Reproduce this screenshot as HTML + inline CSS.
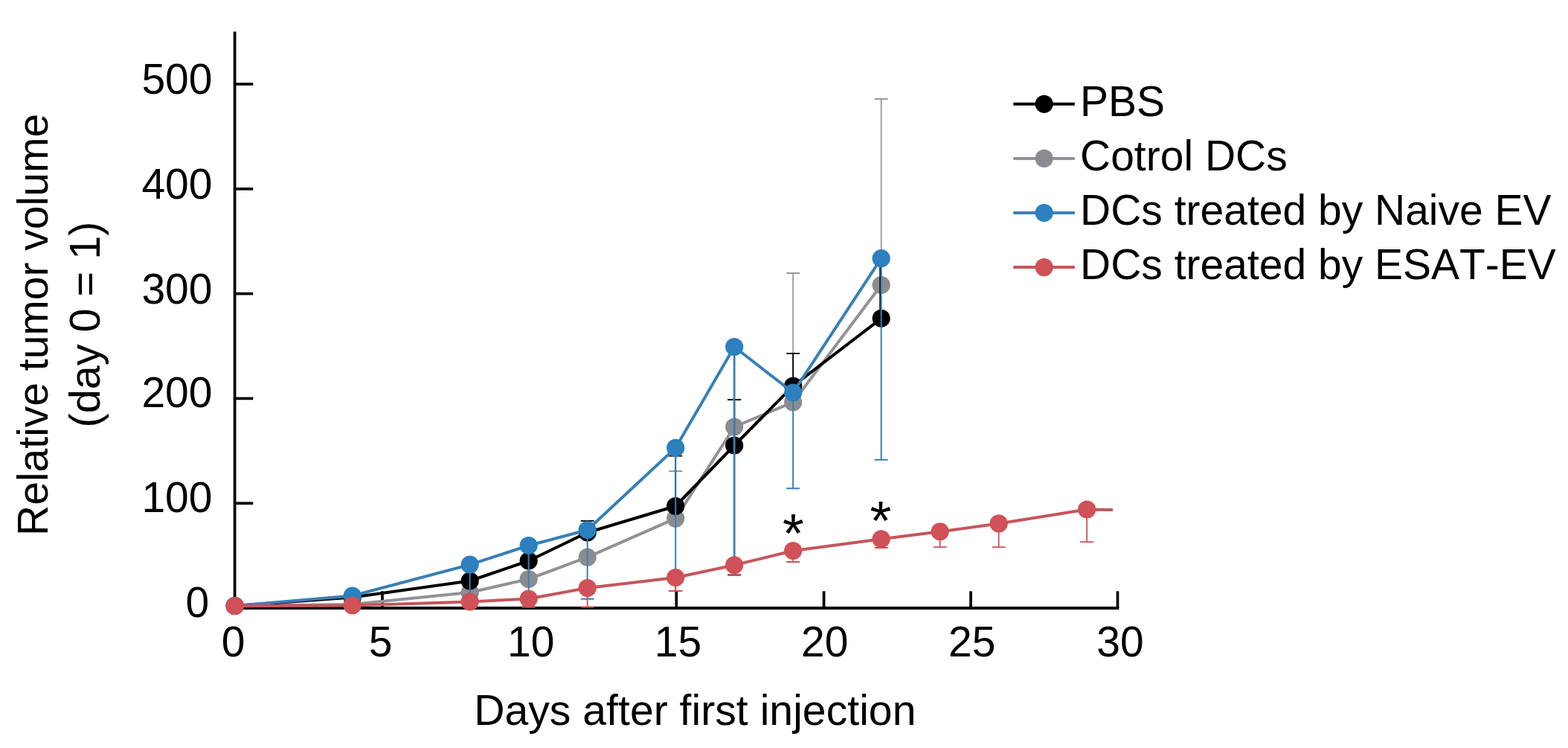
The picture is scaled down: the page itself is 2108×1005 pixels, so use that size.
<!DOCTYPE html>
<html><head><meta charset="utf-8"><title>Relative tumor volume chart</title>
<style>html,body{margin:0;padding:0;background:#fff;width:2108px;height:1005px;overflow:hidden}svg{display:block}</style>
</head><body>
<svg width="2108" height="1005" viewBox="0 0 2108 1005">
<rect width="2108" height="1005" fill="#fff"/>
<g><path d="M315.6,42.5 V817.0 H1504.3" fill="none" stroke="#000" stroke-width="3.8"/><path d="M315.6,676.2 H340.3" stroke="#000" stroke-width="3.7"/><path d="M315.6,535.4 H340.3" stroke="#000" stroke-width="3.7"/><path d="M315.6,394.6 H340.3" stroke="#000" stroke-width="3.7"/><path d="M315.6,253.8 H340.3" stroke="#000" stroke-width="3.7"/><path d="M315.6,113.0 H340.3" stroke="#000" stroke-width="3.7"/><path d="M514.0,817.0 V794.3" stroke="#000" stroke-width="3.7"/><path d="M711.4,817.0 V794.3" stroke="#000" stroke-width="3.7"/><path d="M909.3,817.0 V794.3" stroke="#000" stroke-width="3.7"/><path d="M1107.6,817.0 V794.3" stroke="#000" stroke-width="3.7"/><path d="M1305.1,817.0 V794.3" stroke="#000" stroke-width="3.7"/><path d="M1502.5,817.0 V794.3" stroke="#000" stroke-width="3.7"/></g>
<g><path d="M315.7,814.0 L473.7,812.0 L631.7,796.0 L710.7,778.0 L789.7,748.7 L908.2,696.6 L987.2,573.5 L1066.2,540.4 L1184.7,383.0" fill="none" stroke="#929296" stroke-width="4.0" stroke-linejoin="round"/><path d="M908.2,696.6 V633.0 M899.2,633.0 H917.2" stroke="#98989c" stroke-width="1.8" fill="none"/><path d="M1066.2,540.4 V367.0 M1057.2,367.0 H1075.2" stroke="#98989c" stroke-width="1.8" fill="none"/><path d="M1184.7,383.0 V133.0 M1175.7,133.0 H1193.7" stroke="#98989c" stroke-width="1.8" fill="none"/><circle cx="315.7" cy="814.0" r="12.1" fill="#8b8c90"/><circle cx="473.7" cy="812.0" r="12.1" fill="#8b8c90"/><circle cx="631.7" cy="796.0" r="12.1" fill="#8b8c90"/><circle cx="710.7" cy="778.0" r="12.1" fill="#8b8c90"/><circle cx="789.7" cy="748.7" r="12.1" fill="#8b8c90"/><circle cx="908.2" cy="696.6" r="12.1" fill="#8b8c90"/><circle cx="987.2" cy="573.5" r="12.1" fill="#8b8c90"/><circle cx="1066.2" cy="540.4" r="12.1" fill="#8b8c90"/><circle cx="1184.7" cy="383.0" r="12.1" fill="#8b8c90"/><path d="M315.7,814.0 L473.7,802.5 L631.7,780.5 L710.7,753.5 L789.7,715.5 L908.2,680.0 L987.2,598.5 L1066.2,518.6 L1184.7,427.8" fill="none" stroke="#000000" stroke-width="4.0" stroke-linejoin="round"/><path d="M789.7,715.5 V699.8 M780.7,699.8 H798.7" stroke="#000000" stroke-width="1.8" fill="none"/><path d="M908.2,680.0 V612.6 M899.2,612.6 H917.2" stroke="#000000" stroke-width="1.8" fill="none"/><path d="M987.2,598.5 V537.0 M978.2,537.0 H996.2" stroke="#000000" stroke-width="1.8" fill="none"/><path d="M1066.2,518.6 V474.8 M1057.2,474.8 H1075.2" stroke="#000000" stroke-width="1.8" fill="none"/><path d="M1183.2,427.8 V350.0 M1174.2,350.0 H1192.2" stroke="#000000" stroke-width="1.8" fill="none"/><circle cx="315.7" cy="814.0" r="12.1" fill="#000000"/><circle cx="473.7" cy="802.5" r="12.1" fill="#000000"/><circle cx="631.7" cy="780.5" r="12.1" fill="#000000"/><circle cx="710.7" cy="753.5" r="12.1" fill="#000000"/><circle cx="789.7" cy="715.5" r="12.1" fill="#000000"/><circle cx="908.2" cy="680.0" r="12.1" fill="#000000"/><circle cx="987.2" cy="598.5" r="12.1" fill="#000000"/><circle cx="1066.2" cy="518.6" r="12.1" fill="#000000"/><circle cx="1184.7" cy="427.8" r="12.1" fill="#000000"/><path d="M315.7,814.0 L473.7,800.5 L631.7,758.7 L710.7,733.0 L789.7,712.0 L908.2,601.8 L987.2,466.0 L1066.2,527.5 L1184.7,347.2" fill="none" stroke="#3a7fb6" stroke-width="4.0" stroke-linejoin="round"/><path d="M631.7,758.7 V800.0 M622.7,800.0 H640.7" stroke="#3a7fb8" stroke-width="2.0" fill="none"/><path d="M710.7,733.0 V815.0 M701.7,815.0 H719.7" stroke="#3a7fb8" stroke-width="2.0" fill="none"/><path d="M789.7,712.0 V804.7 M780.7,804.7 H798.7" stroke="#3a7fb8" stroke-width="2.0" fill="none"/><path d="M908.2,601.8 V794.0 M899.2,794.0 H917.2" stroke="#3a7fb8" stroke-width="2.0" fill="none"/><path d="M987.2,466.0 V772.5 M978.2,772.5 H996.2" stroke="#3a7fb8" stroke-width="2.8" fill="none"/><path d="M1066.2,527.5 V656.2 M1057.2,656.2 H1075.2" stroke="#3a7fb8" stroke-width="2.0" fill="none"/><path d="M1184.7,347.2 V617.8 M1175.7,617.8 H1193.7" stroke="#3a7fb8" stroke-width="2.0" fill="none"/><circle cx="315.7" cy="814.0" r="12.1" fill="#2b80bd"/><circle cx="473.7" cy="800.5" r="12.1" fill="#2b80bd"/><circle cx="631.7" cy="758.7" r="12.1" fill="#2b80bd"/><circle cx="710.7" cy="733.0" r="12.1" fill="#2b80bd"/><circle cx="789.7" cy="712.0" r="12.1" fill="#2b80bd"/><circle cx="908.2" cy="601.8" r="12.1" fill="#2b80bd"/><circle cx="987.2" cy="466.0" r="12.1" fill="#2b80bd"/><circle cx="1066.2" cy="527.5" r="12.1" fill="#2b80bd"/><circle cx="1184.7" cy="347.2" r="12.1" fill="#2b80bd"/><path d="M315.7,814.2 L473.7,813.5 L631.7,808.5 L710.7,804.5 L789.7,790.0 L908.2,776.0 L987.2,759.3 L1066.2,740.0 L1184.7,724.3 L1263.7,714.3 L1342.7,703.4 L1461.2,684.5 L1496.0,685.0" fill="none" stroke="#c4565b" stroke-width="4.0" stroke-linejoin="round"/><path d="M710.7,804.5 V815.5 M701.7,815.5 H719.7" stroke="#d05157" stroke-width="1.8" fill="none"/><path d="M789.7,790.0 V815.5 M780.7,815.5 H798.7" stroke="#d05157" stroke-width="1.8" fill="none"/><path d="M908.2,776.0 V794.0 M899.2,794.0 H917.2" stroke="#d05157" stroke-width="1.8" fill="none"/><path d="M987.2,759.3 V771.8 M978.2,771.8 H996.2" stroke="#d05157" stroke-width="1.8" fill="none"/><path d="M1066.2,740.0 V755.0 M1057.2,755.0 H1075.2" stroke="#d05157" stroke-width="1.8" fill="none"/><path d="M1184.7,724.3 V736.0 M1175.7,736.0 H1193.7" stroke="#d05157" stroke-width="1.8" fill="none"/><path d="M1263.7,714.3 V735.2 M1254.7,735.2 H1272.7" stroke="#d05157" stroke-width="1.8" fill="none"/><path d="M1342.7,703.4 V735.2 M1333.7,735.2 H1351.7" stroke="#d05157" stroke-width="1.8" fill="none"/><path d="M1461.2,684.5 V728.2 M1452.2,728.2 H1470.2" stroke="#d05157" stroke-width="1.8" fill="none"/><circle cx="315.7" cy="814.2" r="12.1" fill="#d05157"/><circle cx="473.7" cy="813.5" r="12.1" fill="#d05157"/><circle cx="631.7" cy="808.5" r="12.1" fill="#d05157"/><circle cx="710.7" cy="804.5" r="12.1" fill="#d05157"/><circle cx="789.7" cy="790.0" r="12.1" fill="#d05157"/><circle cx="908.2" cy="776.0" r="12.1" fill="#d05157"/><circle cx="987.2" cy="759.3" r="12.1" fill="#d05157"/><circle cx="1066.2" cy="740.0" r="12.1" fill="#d05157"/><circle cx="1184.7" cy="724.3" r="12.1" fill="#d05157"/><circle cx="1263.7" cy="714.3" r="12.1" fill="#d05157"/><circle cx="1342.7" cy="703.4" r="12.1" fill="#d05157"/><circle cx="1461.2" cy="684.5" r="12.1" fill="#d05157"/></g>
<g font-family='"Liberation Sans", Arial, sans-serif' font-size="57" fill="#000" style="font-kerning:none"><text x="281.1" y="829.3" text-anchor="end">0</text><text x="285.5" y="687.5" text-anchor="end">100</text><text x="285.5" y="547.2" text-anchor="end">200</text><text x="285.5" y="407.9" text-anchor="end">300</text><text x="285.5" y="267.1" text-anchor="end">400</text><text x="285.5" y="126.3" text-anchor="end">500</text><text x="313.6" y="881.7" text-anchor="middle">0</text><text x="511.6" y="881.7" text-anchor="middle">5</text><text x="713.8" y="881.7" text-anchor="middle">10</text><text x="911.5" y="881.7" text-anchor="middle">15</text><text x="1108.7" y="881.7" text-anchor="middle">20</text><text x="1306.7" y="881.7" text-anchor="middle">25</text><text x="1506.0" y="881.7" text-anchor="middle">30</text><text x="934.3" y="974.0" text-anchor="middle" font-size="57.2">Days after first injection</text><text transform="translate(64.4,436.4) rotate(-90)" text-anchor="middle">Relative tumor volume</text><text transform="translate(134,436) rotate(-90)" text-anchor="middle" font-size="57.6">(day 0 = 1)</text><text x="1066.5" y="741.6" text-anchor="middle" font-size="74">*</text><text x="1183.8" y="724.9" text-anchor="middle" font-size="74">*</text><path d="M1362.3,139.8 H1444.9" stroke="#000000" stroke-width="4.0"/><circle cx="1403.7" cy="139.8" r="12.1" fill="#000000"/><text x="1452" y="156.1">PBS</text><path d="M1362.3,212.9 H1444.9" stroke="#929296" stroke-width="4.0"/><circle cx="1403.7" cy="212.9" r="12.1" fill="#8b8c90"/><text x="1452" y="229.2">Cotrol DCs</text><path d="M1362.3,286.0 H1444.9" stroke="#3a7fb6" stroke-width="4.0"/><circle cx="1403.7" cy="286.0" r="12.1" fill="#2b80bd"/><text x="1452" y="302.3">DCs treated by Naive EV</text><path d="M1362.3,359.1 H1444.9" stroke="#c4565b" stroke-width="4.0"/><circle cx="1403.7" cy="359.1" r="12.1" fill="#d05157"/><text x="1452" y="375.4">DCs treated by ESAT-EV</text></g>
</svg>
</body></html>
